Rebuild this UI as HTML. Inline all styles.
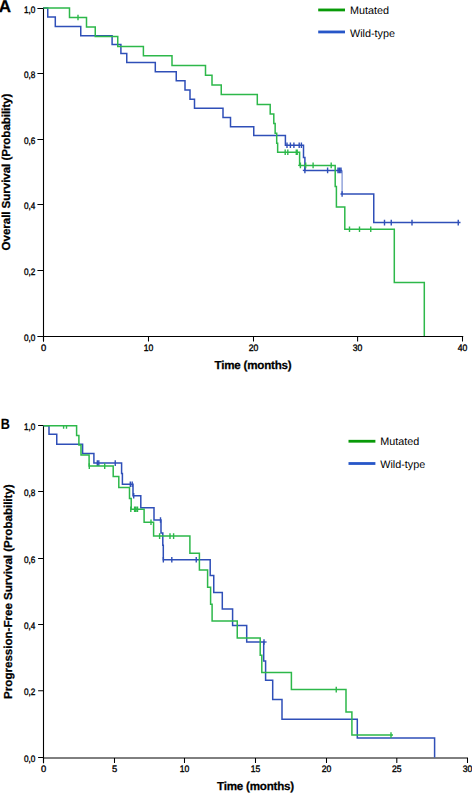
<!DOCTYPE html>
<html><head><meta charset="utf-8"><style>
html,body{margin:0;padding:0;background:#fff;width:472px;height:793px;overflow:hidden}
svg{display:block;text-rendering:geometricPrecision}
text{font-family:"Liberation Sans",sans-serif;fill:#000}
.tk{font-size:9.4px;stroke:#000;stroke-width:0.35px}
.ti{font-size:11.6px;font-weight:bold;letter-spacing:-0.2px;stroke:#000;stroke-width:0.25px}
.ty{font-size:11.6px;font-weight:bold;letter-spacing:-0.06px;stroke:#000;stroke-width:0.25px}
.ty2{font-size:11.6px;font-weight:bold;letter-spacing:-0.015px;stroke:#000;stroke-width:0.25px}
.lg{font-size:10.8px}
.pl{font-size:17px;font-weight:bold;stroke:#000;stroke-width:0.3px}
.pb{font-size:14.9px;font-weight:bold;stroke:#000;stroke-width:0.15px}
</style></head><body>
<svg width="472" height="793" viewBox="0 0 472 793">
<rect width="472" height="793" fill="#fff"/>
<path d="M 43.5 7.5 V 341.5" stroke="#000" stroke-width="1.1" fill="none"/>
<path d="M 43 336.5 H 463.2" stroke="#000" stroke-width="1.05" fill="none"/>
<path d="M 37.4 8.50 H 43.5 M 37.4 73.50 H 43.5 M 37.4 139.50 H 43.5 M 37.4 204.50 H 43.5 M 37.4 270.50 H 43.5 M 37.4 336.50 H 43.5" stroke="#000" stroke-width="1.05" fill="none"/>
<path d="M 43.50 336 V 341.6 M 148.50 336 V 341.6 M 253.50 336 V 341.6 M 357.60 336 V 341.6 M 462.50 336 V 341.6" stroke="#000" stroke-width="1.05" fill="none"/>
<text x="35.4" y="12.60" text-anchor="end" textLength="11.4" lengthAdjust="spacingAndGlyphs" class="tk">1,0</text>
<text x="35.4" y="77.60" text-anchor="end" textLength="11.4" lengthAdjust="spacingAndGlyphs" class="tk">0,8</text>
<text x="35.4" y="143.60" text-anchor="end" textLength="11.4" lengthAdjust="spacingAndGlyphs" class="tk">0,6</text>
<text x="35.4" y="208.60" text-anchor="end" textLength="11.4" lengthAdjust="spacingAndGlyphs" class="tk">0,4</text>
<text x="35.4" y="274.60" text-anchor="end" textLength="11.4" lengthAdjust="spacingAndGlyphs" class="tk">0,2</text>
<text x="35.4" y="340.60" text-anchor="end" textLength="11.4" lengthAdjust="spacingAndGlyphs" class="tk">0,0</text>
<text x="43.50" y="350.5" text-anchor="middle" class="tk">0</text>
<text x="148.50" y="350.5" text-anchor="middle" class="tk" textLength="9.6" lengthAdjust="spacingAndGlyphs">10</text>
<text x="253.50" y="350.5" text-anchor="middle" class="tk" textLength="9.6" lengthAdjust="spacingAndGlyphs">20</text>
<text x="357.60" y="350.5" text-anchor="middle" class="tk" textLength="9.6" lengthAdjust="spacingAndGlyphs">30</text>
<text x="462.50" y="350.5" text-anchor="middle" class="tk" textLength="9.6" lengthAdjust="spacingAndGlyphs">40</text>
<path d="M 43.5 8.1 H 47.75 V 16.9 H 55.3 V 26.4 H 80.75 V 35.8 H 112.1 V 44.6 H 120.9 V 53.5 H 126.75 V 62.4 H 155.3 V 71.75 H 176.25 V 80.75 H 185 V 90 H 190 V 99.25 H 194.5 V 108.25 H 223 V 117.5 H 230.5 V 126.75 H 253.75 V 135.5 H 285.4 V 145.2 H 303.5 V 157.4 H 304.9 V 170.4 H 342.1" stroke="#2f4fb8" stroke-width="1.5" fill="none"/>
<path d="M 342.1 170.4 V 194" stroke="#8296d6" stroke-width="1.3" fill="none"/>
<path d="M 340.5 194 H 373.75 V 222.6 H 460.5" stroke="#2f4fb8" stroke-width="1.5" fill="none"/>
<path d="M 302.8 170.4 H 305" stroke="#2f4fb8" stroke-width="1.4" fill="none"/>
<path d="M 287 142.39999999999998 V 148.0 M 290.4 142.39999999999998 V 148.0 M 293.9 142.39999999999998 V 148.0 M 299.2 142.39999999999998 V 148.0 M 301.4 142.39999999999998 V 148.0 M 304.9 167.6 V 173.20000000000002 M 327.6 167.6 V 173.20000000000002 M 338 167.6 V 173.20000000000002 M 339.5 167.6 V 173.20000000000002 M 341 167.6 V 173.20000000000002 M 342.1 191.2 V 196.8 M 384.5 219.79999999999998 V 225.4 M 391.25 219.79999999999998 V 225.4 M 412 219.79999999999998 V 225.4 M 458.25 219.79999999999998 V 225.4" stroke="#2f4fb8" stroke-width="1.4" fill="none"/>
<path d="M 43.5 8.1 H 69.5 V 17.5 H 86.5 V 26.9 H 95.25 V 36.4 H 117.75 V 46.6 H 143.4 V 55.8 H 172 V 65.5 H 205.5 V 75.3 H 212 V 85 H 221.25 V 94.5 H 257.3 V 104.5 H 270.2 V 114 H 273.8 V 123.5 H 275.15 V 133.3 H 276.7 V 143.2 H 277.65 V 152.3 H 299.6 V 165.4 H 335.2 V 186.4 H 336.4 V 207.1 H 344.8 V 229.25 H 394.3 V 282.4 H 424.3 V 336" stroke="#2db84a" stroke-width="1.5" fill="none"/>
<path d="M 78 14.7 V 20.3 M 285.2 149.5 V 155.10000000000002 M 287.8 149.5 V 155.10000000000002 M 296.3 149.5 V 155.10000000000002 M 297.2 149.5 V 155.10000000000002 M 300.4 162.6 V 168.20000000000002 M 305.7 162.6 V 168.20000000000002 M 313.1 162.6 V 168.20000000000002 M 331.2 162.6 V 168.20000000000002 M 349.5 226.45 V 232.05 M 359.5 226.45 V 232.05 M 370.75 226.45 V 232.05" stroke="#2db84a" stroke-width="1.4" fill="none"/>
<path d="M 298.2 165.4 H 300" stroke="#2db84a" stroke-width="1.4" fill="none"/>
<text x="253" y="368.8" text-anchor="middle" class="ti">Time (months)</text>
<text transform="translate(9.6,172.1) rotate(-90)" x="0" y="0" text-anchor="middle" class="ty">Overall Survival (Probability)</text>
<text x="-1.2" y="11.7" class="pl">A</text>
<path d="M 318.2 9.95 H 345" stroke="#089a08" stroke-width="2.8" fill="none"/>
<path d="M 318.2 31.95 H 345" stroke="#2656c8" stroke-width="2.8" fill="none"/>
<text x="350" y="13.8" class="lg">Mutated</text>
<text x="350" y="36.5" class="lg">Wild-type</text>
<path d="M 43.5 425.3 V 763.3" stroke="#000" stroke-width="1.1" fill="none"/>
<path d="M 43 758 H 468" stroke="#000" stroke-width="1.0" fill="none"/>
<path d="M 38.1 425.50 H 43.5 M 38.1 491.50 H 43.5 M 38.1 558.50 H 43.5 M 38.1 624.50 H 43.5 M 38.1 690.70 H 43.5 M 38.1 757.50 H 43.5" stroke="#000" stroke-width="1.05" fill="none"/>
<path d="M 43.50 758 V 763 M 114.50 758 V 763 M 184.50 758 V 763 M 255.50 758 V 763 M 326.50 758 V 763 M 396.80 758 V 763 M 467.50 758 V 763" stroke="#000" stroke-width="1.05" fill="none"/>
<text x="35.4" y="429.80" text-anchor="end" textLength="11.4" lengthAdjust="spacingAndGlyphs" class="tk">1,0</text>
<text x="35.4" y="495.80" text-anchor="end" textLength="11.4" lengthAdjust="spacingAndGlyphs" class="tk">0,8</text>
<text x="35.4" y="562.80" text-anchor="end" textLength="11.4" lengthAdjust="spacingAndGlyphs" class="tk">0,6</text>
<text x="35.4" y="628.80" text-anchor="end" textLength="11.4" lengthAdjust="spacingAndGlyphs" class="tk">0,4</text>
<text x="35.4" y="695.00" text-anchor="end" textLength="11.4" lengthAdjust="spacingAndGlyphs" class="tk">0,2</text>
<text x="35.4" y="761.80" text-anchor="end" textLength="11.4" lengthAdjust="spacingAndGlyphs" class="tk">0,0</text>
<text x="43.50" y="771.5" text-anchor="middle" class="tk">0</text>
<text x="114.50" y="771.5" text-anchor="middle" class="tk">5</text>
<text x="184.50" y="771.5" text-anchor="middle" class="tk" textLength="9.6" lengthAdjust="spacingAndGlyphs">10</text>
<text x="255.50" y="771.5" text-anchor="middle" class="tk" textLength="9.6" lengthAdjust="spacingAndGlyphs">15</text>
<text x="326.50" y="771.5" text-anchor="middle" class="tk" textLength="9.6" lengthAdjust="spacingAndGlyphs">20</text>
<text x="396.80" y="771.5" text-anchor="middle" class="tk" textLength="9.6" lengthAdjust="spacingAndGlyphs">25</text>
<text x="467.50" y="771.5" text-anchor="middle" class="tk" textLength="9.6" lengthAdjust="spacingAndGlyphs">30</text>
<path d="M 43.5 425.8 H 49 V 434.25 H 56.75 V 444.2 H 82.6 V 453.5 H 93.9 V 463.1 H 121.6 V 473.4 H 122.4 V 484.3 H 133 V 495.7 H 140.8 V 507.8 H 154 V 520 H 161 V 532.9 H 162.8 V 545.3 H 163.3 V 559.7 H 210.2 V 575.6 H 213.75 V 592.5 H 222.3 V 609 H 232.6 V 625.6 H 246.7 V 642 H 263.7 V 661.1 H 265.6 V 680.25 H 272.7 V 699.4 H 282 V 719.2 H 357.3 V 738.1 H 434.6 V 757.5" stroke="#2f4fb8" stroke-width="1.5" fill="none"/>
<path d="M 97.3 460.3 V 465.90000000000003 M 98.8 460.3 V 465.90000000000003 M 115.25 460.3 V 465.90000000000003 M 130.3 481.5 V 487.1 M 132.2 481.5 V 487.1 M 133.7 492.9 V 498.5 M 160.5 517.2 V 522.8 M 163.35 556.9000000000001 V 562.5 M 171.8 556.9000000000001 V 562.5 M 196.25 556.9000000000001 V 562.5 M 264 639.2 V 644.8" stroke="#2f4fb8" stroke-width="1.4" fill="none"/>
<path d="M 263 642 H 266.6" stroke="#2f4fb8" stroke-width="1.3" fill="none"/>
<path d="M 43.5 425.8 H 76.6 V 435.6 H 78.9 V 444.9 H 81 V 455.1 H 89.1 V 466.1 H 113.2 V 476.6 H 118.8 V 487.6 H 129.5 V 498.4 H 131.2 V 509.2 H 144.1 V 522.25 H 153.6 V 536.1 H 189.9 V 553.3 H 199.4 V 570 H 207.6 V 587.25 H 210.6 V 604.2 H 212.1 V 621.1 H 237.25 V 638.1 H 260.2 V 655.3 H 261.8 V 672.6 H 291.4 V 689.6 H 346 V 712.1 H 351.9 V 735.1 H 393" stroke="#2db84a" stroke-width="1.5" fill="none"/>
<path d="M 89.3 463.3 V 468.90000000000003 M 104.7 463.3 V 468.90000000000003 M 130.8 506.4 V 512.0 M 134.6 506.4 V 512.0 M 135.9 506.4 V 512.0 M 137.5 506.4 V 512.0 M 151 519.45 V 525.05 M 159.6 533.3000000000001 V 538.9 M 170 533.3000000000001 V 538.9 M 173.6 533.3000000000001 V 538.9 M 336.25 686.8000000000001 V 692.4 M 391 732.3000000000001 V 737.9" stroke="#2db84a" stroke-width="1.4" fill="none"/>
<path d="M 63.6 425.8 V 428.8 M 66.5 425.8 V 428.8" stroke="#2db84a" stroke-width="1.4" fill="none"/>
<text x="255.5" y="790.1" text-anchor="middle" class="ti">Time (months)</text>
<text transform="translate(11.6,591.6) rotate(-90)" x="0" y="0" text-anchor="middle" class="ty2">Progression-Free Survival (Probability)</text>
<text x="0.7" y="429.4" textLength="9.1" lengthAdjust="spacingAndGlyphs" class="pb">B</text>
<path d="M 348.5 441.25 H 375.4" stroke="#089a08" stroke-width="2.8" fill="none"/>
<path d="M 348.5 463.5 H 375.4" stroke="#2656c8" stroke-width="2.8" fill="none"/>
<text x="380.2" y="445.3" class="lg">Mutated</text>
<text x="380.2" y="467.5" class="lg">Wild-type</text>
</svg>
</body></html>
